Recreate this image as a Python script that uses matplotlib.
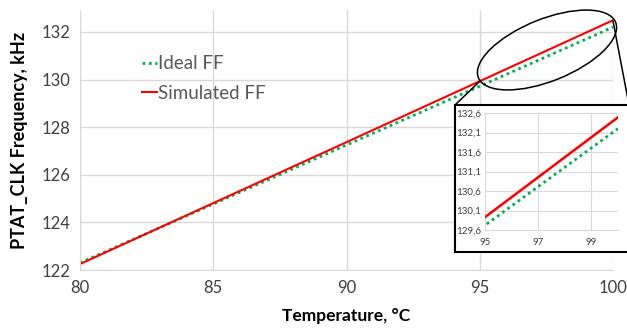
import matplotlib.pyplot as plt
from matplotlib.patches import Ellipse, Rectangle
from matplotlib.lines import Line2D
from matplotlib.transforms import IdentityTransform
from matplotlib.ticker import FuncFormatter

plt.rcParams['font.family'] = ['Lato', 'DejaVu Sans']

temp = [80, 85, 90, 95, 100]
ideal_ff = [122.30, 124.77, 127.25, 129.72, 132.20]
simulated_ff = [122.25, 124.81, 127.37, 129.93, 132.49]

main_yticks = [122, 124, 126, 128, 130, 132]
main_xticks = [80, 85, 90, 95, 100]
inset_yticks = [129.6, 130.1, 130.6, 131.1, 131.6, 132.1, 132.6]
inset_xticks = [95, 97, 99]

green = '#00b050'
red = '#ff0000'
grid = '#d9d9d9'
txt = '#404040'

W, H = 627, 328
fig = plt.figure(figsize=(W / 100, H / 100), dpi=100)
ax = fig.add_axes([80 / W, 1 - 270 / H, (613 - 80) / W, 260 / H])

ax.plot(temp, ideal_ff, color=green, lw=2, ls=(0, (1, 1.3)), label='Ideal FF')
ax.plot(temp, simulated_ff, color=red, lw=1.5, label='Simulated FF')
ax.set_xlim(80, 100)
ax.set_ylim(122, 132.92)
ax.set_xticks(main_xticks)
ax.set_yticks(main_yticks)
ax.grid(True, color=grid, lw=1)
ax.set_axisbelow(True)
for s in ['top', 'right']:
    ax.spines[s].set_visible(False)
for s in ['left', 'bottom']:
    ax.spines[s].set_color(grid)
ax.tick_params(length=0, labelsize=12, colors=txt, pad=7)
ax.set_xlabel('Temperature, °C', fontsize=12.5, fontweight='bold', color='black', labelpad=9)
ax.set_ylabel('PTAT_CLK Frequency, kHz', fontsize=13, fontweight='bold', color='black', labelpad=10)
leg = ax.legend(loc='upper left', bbox_to_anchor=(0.085, 0.89), frameon=False,
                fontsize=13.5, handlelength=0.8, handletextpad=0.05, labelspacing=0.65)
for t in leg.get_texts():
    t.set_color('#595959')

# zoom ellipse and connectors (pixel coords)
ell = Ellipse((547, H - 50), 148, 62, angle=22, fill=False, ec='black', lw=1.1,
              transform=IdentityTransform(), zorder=3)
fig.patches.append(ell)
fig.lines.append(Line2D([479, 455], [H - 82, H - 105], color='black', lw=1.1,
                        transform=IdentityTransform(), zorder=3))
fig.lines.append(Line2D([613, 629], [H - 21, H - 105], color='black', lw=1.1,
                        transform=IdentityTransform(), zorder=3))
box = Rectangle((455, H - 252), 200, 147, fc='white', ec='black', lw=1.5,
                transform=IdentityTransform(), zorder=4)
fig.patches.append(box)

ins = fig.add_axes([485 / W, 1 - 230 / H, 133 / W, 117 / H], zorder=5)
ins.plot(temp, ideal_ff, color=green, lw=2, ls=(0, (1, 1.3)))
ins.plot(temp, simulated_ff, color=red, lw=1.8)
ins.set_xlim(95, 100)
ins.set_ylim(129.6, 132.6)
ins.set_xticks(inset_xticks)
ins.set_yticks(inset_yticks)
ins.yaxis.set_major_formatter(FuncFormatter(lambda v, p: f'{v:.1f}'.replace('.', ',')))
ins.grid(True, color=grid, lw=0.8)
ins.set_axisbelow(True)
ins.patch.set_alpha(0)
for s in ['top', 'right', 'left']:
    ins.spines[s].set_visible(False)
ins.spines['bottom'].set_color(grid)
ins.tick_params(length=0, labelsize=7, colors=txt, pad=3)
ins.tick_params(axis='x', pad=6)

fig.savefig('out.png', dpi=100)
